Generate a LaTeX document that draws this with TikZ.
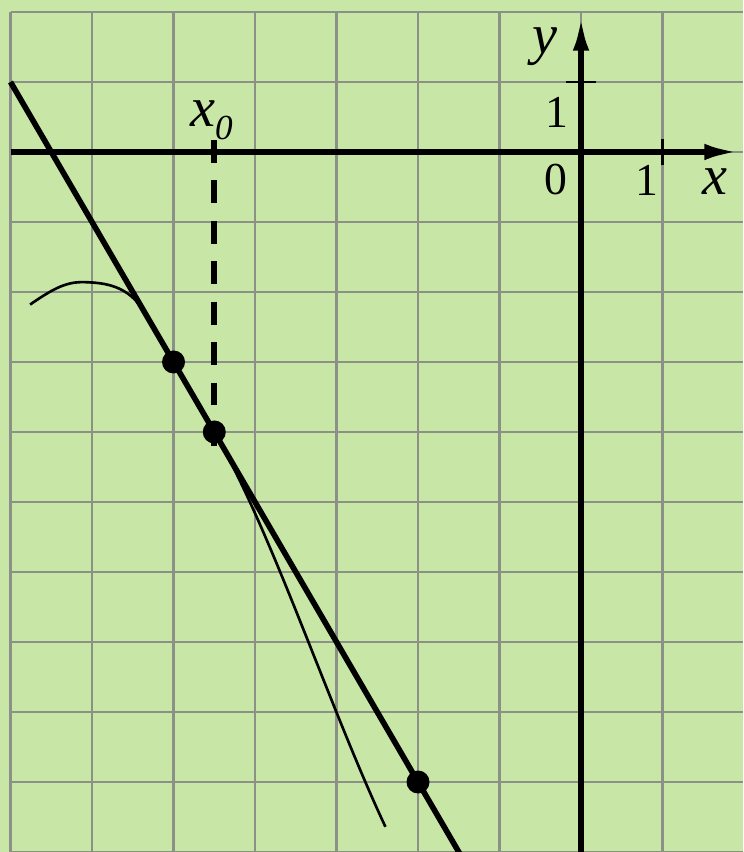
\documentclass[tikz,border=0pt]{standalone}
\usepackage{fontspec}
\setmainfont{Liberation Serif}
\usetikzlibrary{arrows.meta, calc}
\definecolor{PaperGreen}{HTML}{C8E6A5}
\definecolor{GridGray}{HTML}{8C9187}

\begin{document}
\begin{tikzpicture}[
  x = 1.63cm, y = 1.4cm,
  gridline/.style = {draw=GridGray, line width=1.6pt},
  axis/.style     = {line width=3.8pt, -{Latex[length=22pt, width=9pt]}},
  tick/.style     = {line width=1.2pt},
  tangent/.style  = {line width=3.2pt},
  graph/.style    = {line width=1.5pt},
  dashline/.style = {line width=3.2pt, dash pattern=on 13pt off 10pt},
  dot/.style      = {circle, fill=black, inner sep=0pt, minimum size=0.46cm},
  num/.style      = {font=\fontsize{26}{26}\selectfont, inner sep=0pt},
  var/.style      = {font=\fontsize{32}{32}\selectfont\itshape, inner sep=0pt},
]
\useasboundingbox[fill=PaperGreen] (-7.129,-10) rectangle (1.988,2.171);
\clip (-7.129,-10) rectangle (1.988,2.171);

% Grid
\foreach \i in {-7,...,1}
  \draw[gridline] (\i,-10) -- (\i,2);
\foreach \j in {-10,...,2}
  \draw[gridline] (-7,\j) -- (1.988,\j);

% Tangent line and graph
\draw[tangent] (-7,1) -- (-1.4,-10.2);
\draw[graph] (-6.76,-2.18) .. controls (-6.45,-1.93) and (-6.3,-1.85) .. (-6.08,-1.86)
  .. controls (-5.85,-1.87) and (-5.55,-1.9) .. (-5.35,-2.3) -- (-4.5,-4)
  .. controls (-3.8,-5.4) and (-3.1,-7.9) .. (-2.4,-9.64);

% Dashed drop line at x_0
\draw[dashline] (-4.5,0.17) -- (-4.5,-4.33);

% Axes and unit ticks
\draw[axis] (-7,0) -- (1.988,0);
\draw[axis] (0,-10) -- (0,2);
\draw[tick] (-0.18,1) -- (0.18,1);
\draw[tick] (1,-0.19) -- (1,0.19);

% Points
\node[dot] (ptA) at (-5,-3) {};
\node[dot] (ptB) at (-4.5,-4) {};
\node[dot] (ptC) at (-2,-9) {};

% Labels
\node[var] (ylbl) at (-0.44,1.50) {y};
\node[num] (oney) at (-0.29,0.56) {1};
\node[num] (zero) at (-0.31,-0.40) {0};
\node[num] (onex) at (0.81,-0.40) {1};
\node[var] (xlbl) at (1.64,-0.43) {x};
\node[var, anchor=base west] (xnull) at (-4.80,0.36)
      {x{\fontsize{20}{20}\selectfont\raisebox{-7pt}{0}}};

\end{tikzpicture}
\end{document}
